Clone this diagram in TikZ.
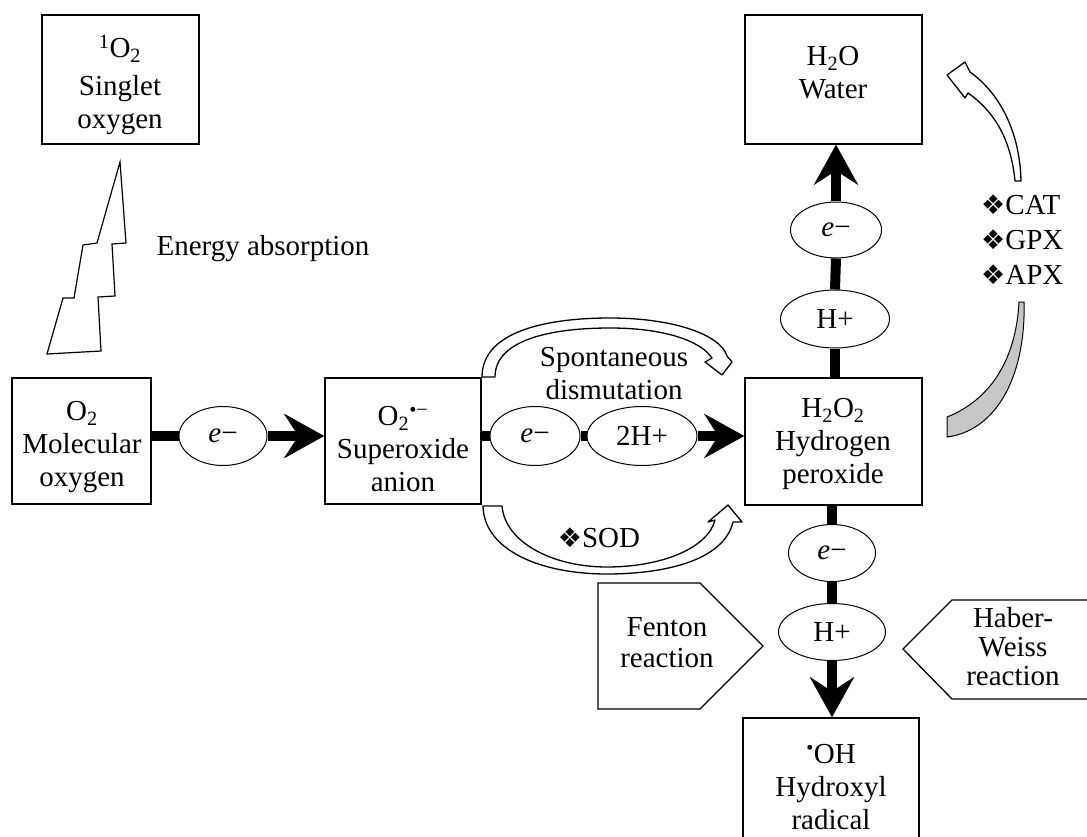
\documentclass[tikz,border=0pt]{standalone}
\usepackage{fontspec}
\setmainfont{Liberation Serif}
\newfontfamily\dingfont{DejaVu Sans}
\usetikzlibrary{shapes.geometric,arrows.meta,calc}
\newcommand{\dia}{{\dingfont\fontsize{27}{27}\selectfont ❖}}
\newcommand{\eminus}{\textit{e}−}
\begin{document}
\begin{tikzpicture}[x=1pt,y=-1pt,
  every node/.style={font=\fontsize{29}{33}\selectfont},
  box/.style={draw, line width=1.4pt, inner sep=0pt},
  oval/.style={draw, ellipse, line width=1pt, inner sep=0pt},
  txt/.style={align=center, inner sep=0pt},
  conn/.style={line width=10pt},
  arr/.style={line width=10pt, -{Stealth[length=40pt,width=44pt,inset=14pt]}},
  hollow/.style={draw, fill=white, line width=1.3pt, line join=round},
  pent/.style={draw, fill=white, line width=1.3pt, line join=miter}]
\useasboundingbox (0,0) rectangle (1087,837);
\clip (0,0) rectangle (1087,837);
\fill[white] (0,0) rectangle (1087,837);

% boxes
\node[box, minimum width=157pt, minimum height=129pt] (sing) at (120.5,79.5) {};
\node[txt] (singt) at (120,85) {\textsuperscript{1}O\textsubscript{2}\\[5pt] Singlet\\ oxygen};
\node[box, minimum width=139pt, minimum height=126pt] (o2) at (81.5,441) {};
\node[txt] (o2t) at (82,447) {O\textsubscript{2}\\ Molecular\\ oxygen};
\node[box, minimum width=156pt, minimum height=126pt] (sup) at (403,441) {};
\node[txt] (supt) at (403,449) {O\textsubscript{2}\textsuperscript{•−}\\ Superoxide\\ anion};
\node[box, minimum width=177pt, minimum height=127pt] (h2o2) at (833.5,441.5) {};
\node[txt] (h2o2t) at (833,444) {H\textsubscript{2}O\textsubscript{2}\\ Hydrogen\\ peroxide};
\node[box, minimum width=177pt, minimum height=129pt] (h2o) at (833.5,79.5) {};
\node[txt] (h2ot) at (833,73) {H\textsubscript{2}O\\ Water};
\node[box, minimum width=176pt, minimum height=132pt] (oh) at (831,784) {};
\node[txt] (oht) at (831,787) {\textsuperscript{•}OH\\ Hydroxyl\\ radical};

% ellipses
\node[oval, minimum width=88pt, minimum height=59pt] (e1) at (223,436) {\eminus};
\node[oval, minimum width=90pt, minimum height=59pt] (e2) at (535,436) {\eminus};
\node[oval, minimum width=110pt, minimum height=59pt] (h2) at (642,436) {2H+};
\node[oval, minimum width=91pt, minimum height=56pt] (e3) at (836,230) {\eminus};
\node[oval, minimum width=109pt, minimum height=58pt] (p3) at (835,319) {H+};
\node[oval, minimum width=87pt, minimum height=57pt] (e4) at (832,553) {\eminus};
\node[oval, minimum width=107pt, minimum height=57pt] (p4) at (832,632) {H+};

% connectors
\draw[conn] (o2.east |- e1.west) -- (e1.west);
\draw[arr] (e1.east) -- (e1.east -| sup.west);
\draw[conn] (sup.east |- e2.west) -- (e2.west);
\draw[conn] (e2.east) -- (h2.west);
\draw[arr] (h2.east) -- (h2.east -| h2o2.west);
\draw[conn] (p3.south |- h2o2.north) -- (p3.south);
\draw[conn] (p3.north) -- (e3.south);
\draw[arr] (e3.north) -- (e3.north |- h2o.south);
\draw[conn] (e4.north |- h2o2.south) -- (e4.north);
\draw[conn] (e4.south) -- (p4.north);
\draw[arr] (p4.south) -- (p4.south |- oh.north);

% lightning bolt
\draw[line width=1.2pt, fill=white, line join=miter] (120,162) -- (126,243) -- (112,244) -- (115,296) -- (98,297) -- (101,351) -- (47,354) -- (63,298) -- (74,298) -- (83,245) -- (97,243) -- cycle;
\node[txt] (energy) at (263,249) {Energy absorption};

% spontaneous dismutation arrow
\draw[hollow] (482,377) .. controls (482,330) and (550,318) .. (610,318) .. controls (672,318) and (720,334) .. (727,356) -- (732,362) -- (722,375) -- (705,362) -- (712,358) .. controls (700,340) and (662,328) .. (610,328) .. controls (556,328) and (495,338) .. (495,377) -- cycle;
\node[txt] (spont) at (614,374) {Spontaneous\\ dismutation};

% SOD arrow
\draw[hollow] (502,506) .. controls (505,542) and (552,567) .. (607,567) .. controls (662,567) and (708,548) .. (715,520) -- (708,522) -- (728,505) -- (742,522) -- (733,522) .. controls (724,560) and (666,574) .. (607,574) .. controls (540,574) and (484,550) .. (483,506) -- cycle;
\node[txt] (sod) at (599,538) {\dia SOD};

% CAT arrow
\draw[hollow] (1015,181) .. controls (1011,140) and (995,112) .. (968,93) -- (965,98) -- (947,75) -- (965,62) -- (970,72) .. controls (1002,95) and (1020,135) .. (1021,181) -- cycle;
\node[txt, align=left, anchor=west, font=\fontsize{29}{35}\selectfont] (enz) at (981,240) {\dia CAT\\ \dia GPX\\ \dia APX};
% gray crescent
\draw[line width=1pt, fill=black!22] (1019,302) .. controls (1016,360) and (990,400) .. (947,417) -- (947,437) .. controls (1000,430) and (1026,370) .. (1024,302) -- cycle;

% Fenton and Haber-Weiss
\draw[pent] (598,583) -- (700,583) -- (763,646) -- (700,709) -- (598,709) -- cycle;
\node[txt, font=\fontsize{29}{31}\selectfont] (fent) at (667,643) {Fenton\\ reaction};
\draw[pent] (1095,600) -- (952,600) -- (903,649) -- (952,699) -- (1095,699);
\node[txt, font=\fontsize{29}{29}\selectfont] (hab) at (1013,647) {Haber-\\ Weiss\\ reaction};
\end{tikzpicture}
\end{document}
